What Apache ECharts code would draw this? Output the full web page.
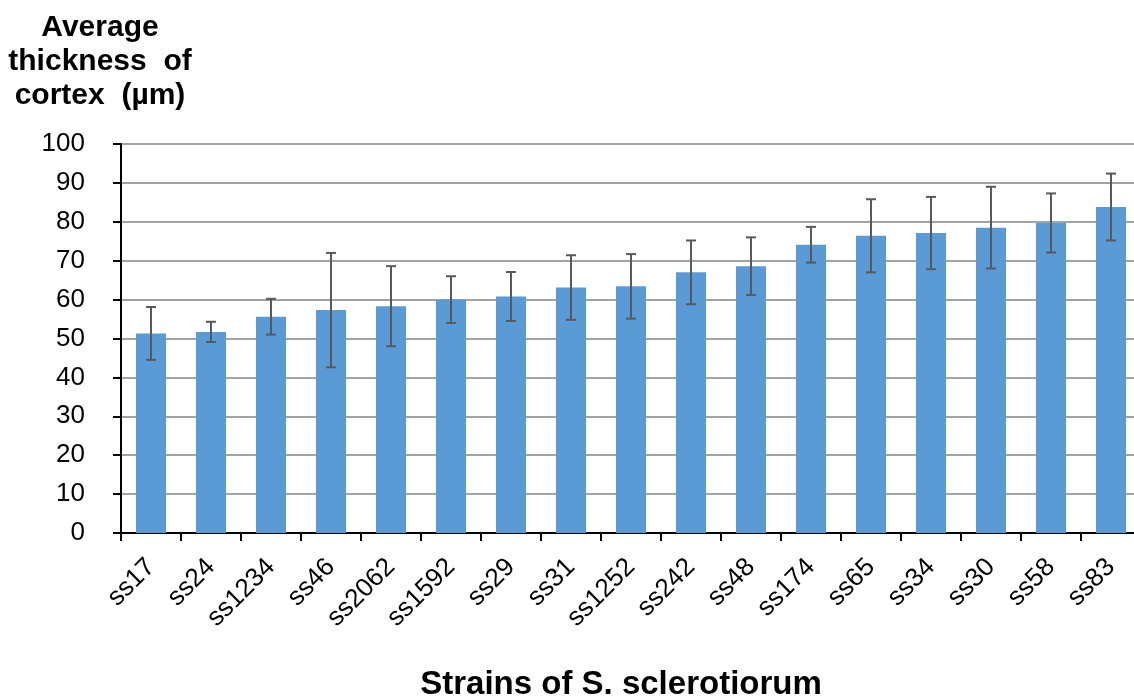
<!DOCTYPE html>
<html>
<head>
<meta charset="utf-8">
<title>Average thickness of cortex</title>
<script src="https://cdn.jsdelivr.net/npm/echarts@6/dist/echarts.min.js"></script>
<style>
  html, body { margin: 0; padding: 0; background: #ffffff; }
  #chart { width: 1134px; height: 699px; }
</style>
</head>
<body>
<div id="chart"></div>
<script>
// Strains, mean cortex thickness (µm) and standard deviation
const strains = ['ss17', 'ss24', 'ss1234', 'ss46', 'ss2062', 'ss1592', 'ss29', 'ss31', 'ss1252',
                 'ss242', 'ss48', 'ss174', 'ss65', 'ss34', 'ss30', 'ss58', 'ss83'];
const meanThickness = [51.3, 51.7, 55.6, 57.3, 58.3, 60.0, 60.8, 63.1, 63.4,
                       67.0, 68.6, 74.1, 76.4, 77.1, 78.5, 79.7, 83.8];
const stdDev = [6.8, 2.6, 4.6, 14.7, 10.3, 6.0, 6.3, 8.3, 8.3,
                8.2, 7.4, 4.6, 9.4, 9.3, 10.5, 7.6, 8.6];
const yTicks = { min: 0, max: 100, step: 10 };

const FONT = '"Liberation Sans", Arial, Helvetica, sans-serif';

const errorData = meanThickness.map((m, i) => [i, m - stdDev[i], m + stdDev[i]]);

const chart = echarts.init(document.getElementById('chart'), null, { renderer: 'canvas' });

chart.setOption({
  backgroundColor: '#ffffff',
  animation: false,
  title: [
    {
      text: 'Average\nthickness  of\ncortex  (µm)',
      left: 100,
      top: 11,
      padding: 0,
      textAlign: 'center',
      textStyle: { fontFamily: FONT, fontSize: 30, fontWeight: 'bold', color: '#000', lineHeight: 34 }
    },
    {
      text: 'Strains of S. sclerotiorum',
      left: 621,
      top: 668,
      padding: 0,
      textAlign: 'center',
      textStyle: { fontFamily: FONT, fontSize: 33, fontWeight: 'bold', color: '#000' }
    }
  ],
  // plot area runs a little past the right edge of the canvas
  grid: { left: 121, top: 144, width: 1020, height: 389, containLabel: false, outerBoundsMode: 'none' },
  xAxis: {
    type: 'category',
    data: strains,
    axisLine: { show: true, lineStyle: { color: '#000', width: 2 } },
    axisTick: { show: true, length: 8, lineStyle: { color: '#000', width: 2 } },
    axisLabel: {
      rotate: 45,
      margin: 30,
      interval: 0,
      fontFamily: FONT,
      fontSize: 26,
      color: '#000'
    },
    splitLine: { show: false }
  },
  yAxis: {
    type: 'value',
    min: yTicks.min,
    max: yTicks.max,
    interval: yTicks.step,
    axisLine: { show: true, lineStyle: { color: '#000', width: 2 } },
    axisTick: { show: true, length: 8, lineStyle: { color: '#000', width: 2 } },
    axisLabel: { margin: 36, fontFamily: FONT, fontSize: 26, color: '#000' },
    splitLine: { show: true, lineStyle: { color: '#858585', width: 1.6 } }
  },
  series: [
    {
      type: 'bar',
      data: meanThickness,
      barWidth: 30,
      itemStyle: { color: '#5B9BD5' }
    },
    {
      type: 'custom',
      data: errorData,
      z: 10,
      renderItem: function (params, api) {
        const idx = api.value(0);
        const lo = api.coord([idx, api.value(1)]);
        const hi = api.coord([idx, api.value(2)]);
        const cap = 5;
        const style = { stroke: '#595959', lineWidth: 2 };
        return {
          type: 'group',
          children: [
            { type: 'line', shape: { x1: hi[0], y1: hi[1], x2: lo[0], y2: lo[1] }, style: style },
            { type: 'line', shape: { x1: hi[0] - cap, y1: hi[1], x2: hi[0] + cap, y2: hi[1] }, style: style },
            { type: 'line', shape: { x1: lo[0] - cap, y1: lo[1], x2: lo[0] + cap, y2: lo[1] }, style: style }
          ]
        };
      }
    }
  ]
});
</script>
</body>
</html>
